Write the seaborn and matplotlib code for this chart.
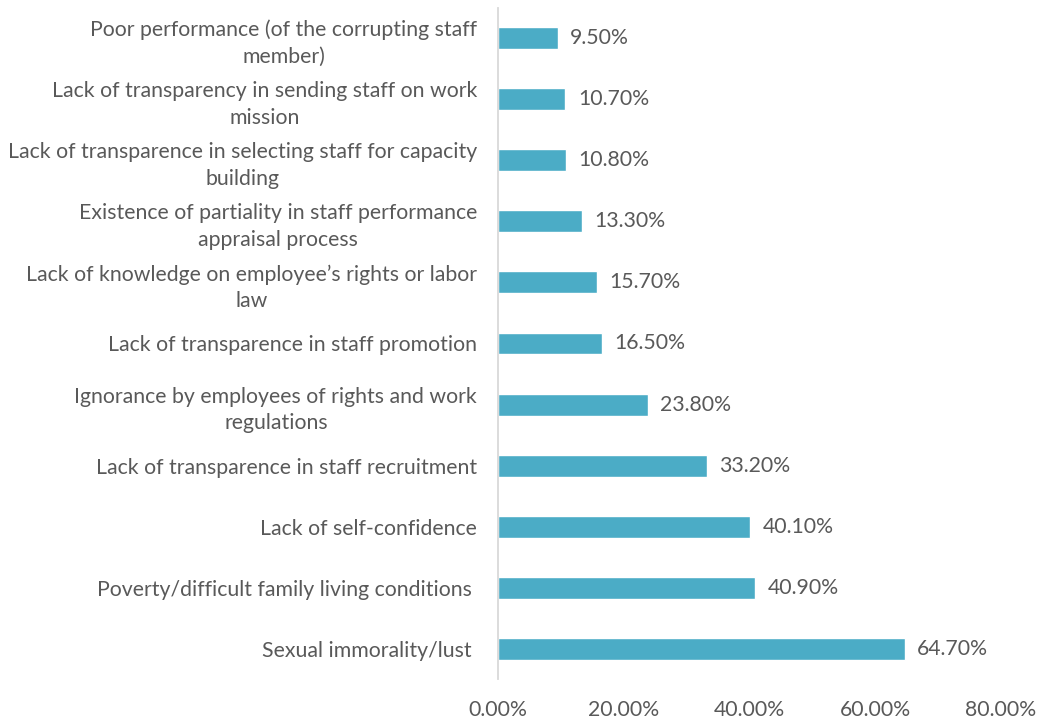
import matplotlib
matplotlib.use("Agg")
import matplotlib.pyplot as plt
import seaborn as sns
import pandas as pd
from matplotlib.ticker import FuncFormatter

categories = [
    "Poor performance (of the corrupting staff\nmember)",
    "Lack of transparency in sending staff on work\nmission",
    "Lack of transparence in selecting staff for capacity\nbuilding",
    "Existence of partiality in staff performance\nappraisal process",
    "Lack of knowledge on employee\u2019s rights or labor\nlaw",
    "Lack of transparence in staff promotion",
    "Ignorance by employees of rights and work\nregulations",
    "Lack of transparence in staff recruitment",
    "Lack of self-confidence",
    "Poverty/difficult family living conditions ",
    "Sexual immorality/lust ",
]
values = [9.5, 10.7, 10.8, 13.3, 15.7, 16.5, 23.8, 33.2, 40.1, 40.9, 64.7]
x_ticks = [0, 20, 40, 60, 80]

df = pd.DataFrame({"cat": categories, "val": values})

sns.set_theme(style="white")
plt.rcParams["font.family"] = ["Lato", "DejaVu Sans"]

TXT = "#595959"
BAR = "#4BACC6"
FS = 15.3

fig = plt.figure(figsize=(10.43, 7.23), dpi=100)
ax = fig.add_axes([0.4775, 0.0602, 0.9597 - 0.4775, 0.9896 - 0.0602])

sns.barplot(data=df, x="val", y="cat", orient="h", color=BAR, width=0.36,
            saturation=1, ax=ax, order=categories)

ax.set_xlim(0, 80)
ax.set_ylim(len(categories) - 0.5, -0.5)
ax.set_xticks(x_ticks)
ax.xaxis.set_major_formatter(FuncFormatter(lambda v, p: f"{v:.2f}%"))
ax.set_xlabel("")
ax.set_ylabel("")

for s in ["top", "right", "bottom"]:
    ax.spines[s].set_visible(False)
ax.spines["left"].set_color("#D9D9D9")
ax.spines["left"].set_linewidth(1.3)

ax.tick_params(axis="x", length=0, pad=15, labelsize=FS, labelcolor=TXT)
ax.tick_params(axis="y", length=0, pad=15, labelsize=FS, labelcolor=TXT)
for t in ax.get_yticklabels():
    t.set_multialignment("center")
    t.set_linespacing(1.4)

for c in ax.containers:
    ax.bar_label(c, labels=[f"{v:.2f}%" for v in values], padding=9,
                 color=TXT, fontsize=FS)

fig.savefig("out.png", dpi=100)
